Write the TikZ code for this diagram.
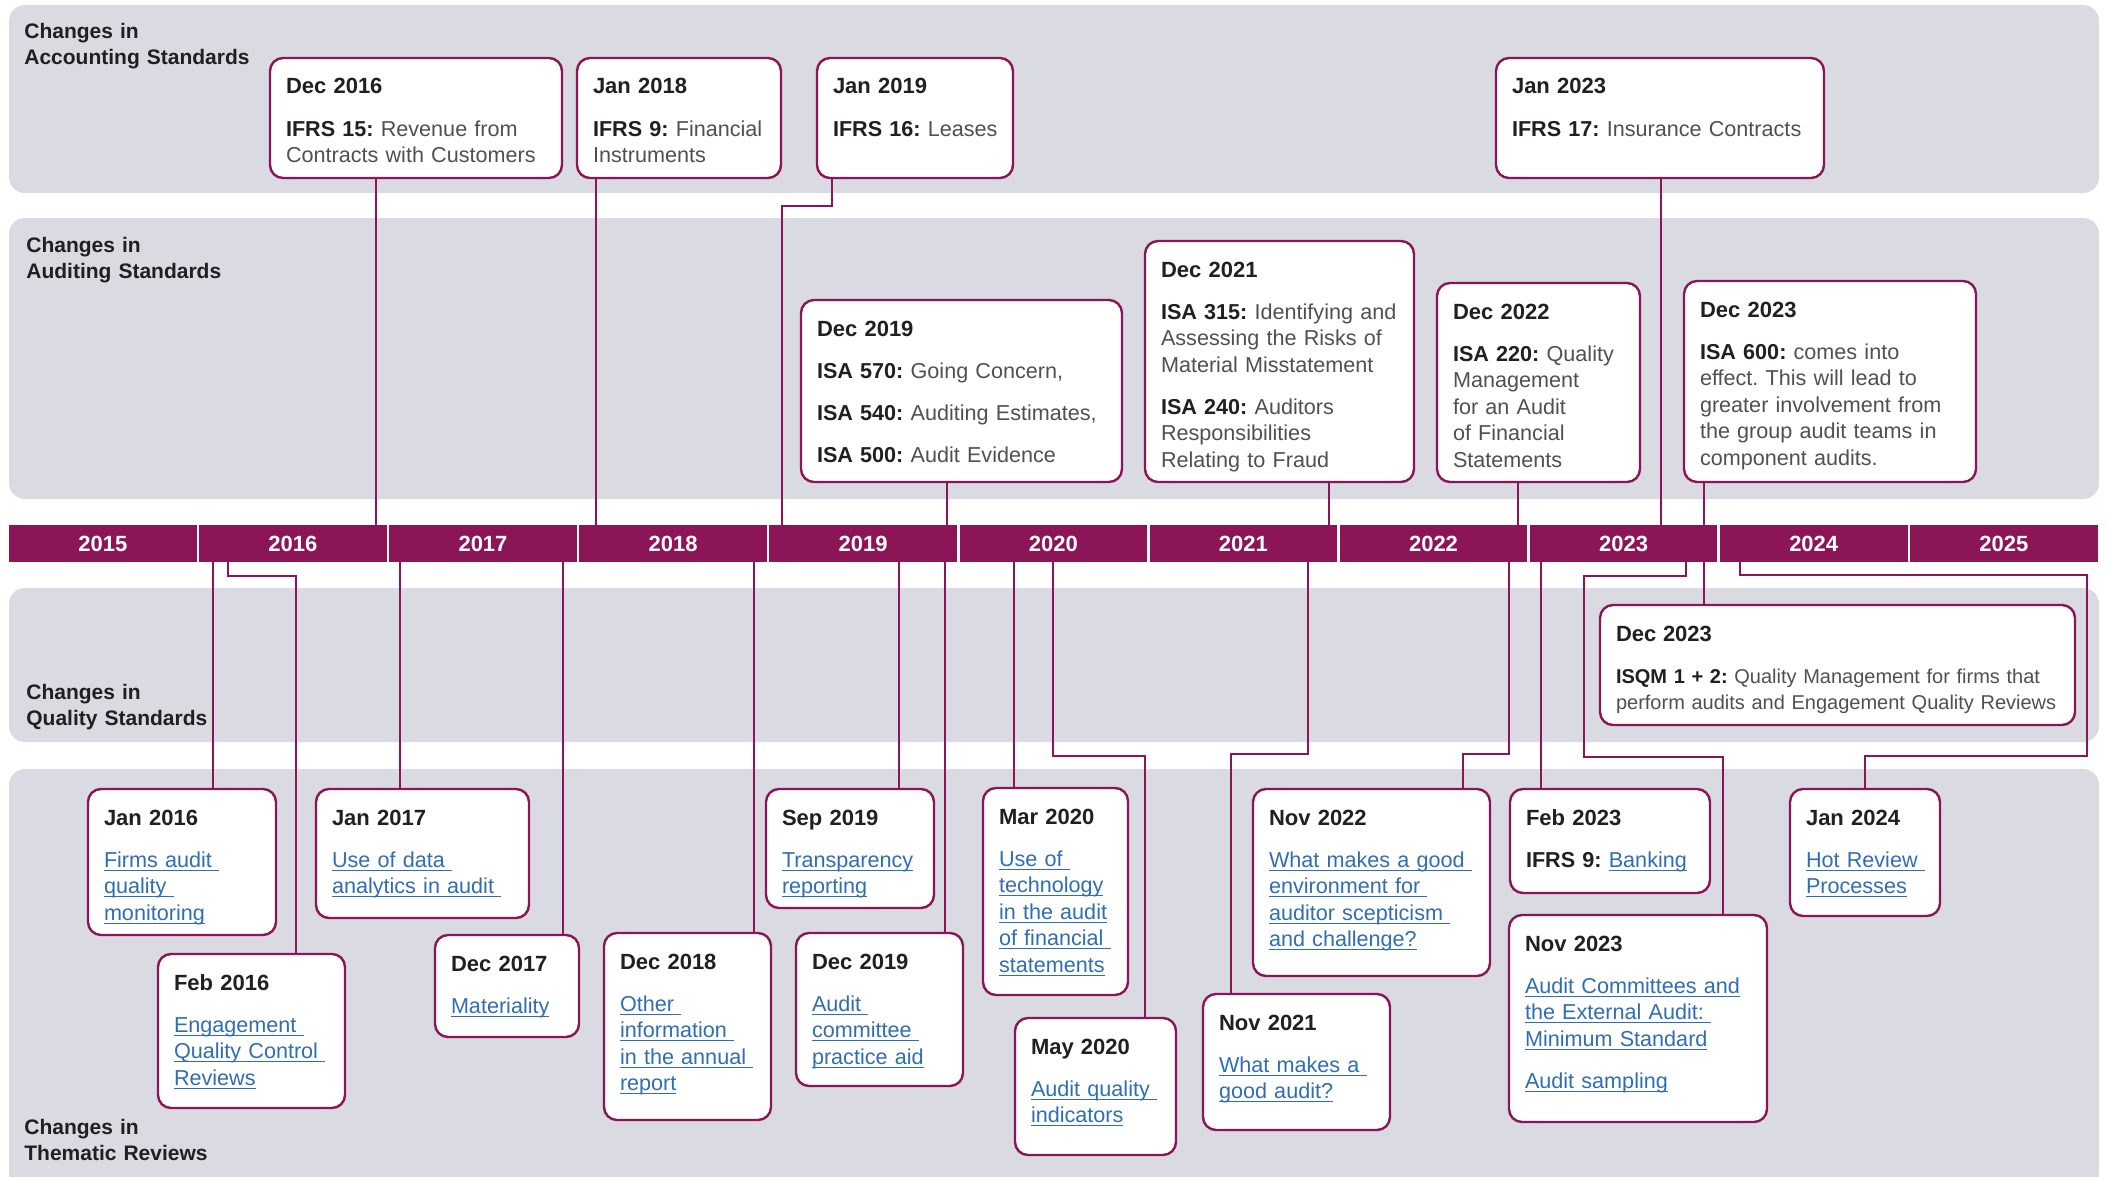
\documentclass[tikz,border=0pt]{standalone}
\usepackage{fontspec}
\setmainfont{Liberation Sans}
\usetikzlibrary{positioning,calc}

\definecolor{plumbar}{RGB}{140,21,88}
\definecolor{bandgray}{RGB}{218,218,226}
\definecolor{linkblue}{RGB}{48,110,180}
\definecolor{inkdark}{RGB}{35,31,32}
\definecolor{inkgray}{RGB}{80,80,80}

\newcommand{\when}[1]{{\fontsize{11}{13.3}\selectfont\bfseries\color{inkdark}#1}\\[7.7pt]}
\newcommand{\std}[1]{{\bfseries\color{inkdark}#1}}
\newcommand{\lnk}[1]{\leavevmode{\color{linkblue}\setbox0\hbox{#1}\rlap{\rule[-1.8pt]{\wd0}{0.55pt}}\box0}}
\newcommand{\blockgap}{\\[7.7pt]}
\frenchspacing

\begin{document}
\begin{tikzpicture}[x=0.5pt, y=-0.5pt,
  band/.style={fill=bandgray, rounded corners=8pt},
  lbl/.style={anchor=north west, inner sep=0pt, text height=7.6pt, text width=130pt, align=left, font=\fontsize{10.5}{13}\selectfont\bfseries, text=inkdark},
  yr/.style={fill=plumbar, minimum width=93.8pt, minimum height=18.5pt, inner sep=0pt, outer sep=0pt, text=white, font=\fontsize{11}{13}\selectfont\bfseries},
  evt/.style={draw=plumbar, fill=white, line width=1.2pt, rounded corners=6.5pt, anchor=north west, inner xsep=8pt, inner ysep=0pt, outer sep=0pt, text height=18pt, align=left, text=inkgray, font=\fontsize{10.8}{13.3}\selectfont},
  conn/.style={draw=plumbar, line width=1pt}]
 \useasboundingbox (0,0) rectangle (2109,1177);

 % Background bands
 \fill[band] (9,5) rectangle (2099,193);
 \fill[band] (9,218) rectangle (2099,499);
 \fill[band] (9,588) rectangle (2099,742);
 \fill[band] (9,769) rectangle (2099,1177);
 \fill[bandgray] (9,1150) rectangle (2099,1177);

 \node[lbl] (lacc) at (24,23) {Changes in\\Accounting Standards};
 \node[lbl] (laud) at (26,237) {Changes in\\Auditing Standards};
 \node[lbl] (lqual) at (26,684) {Changes in\\Quality Standards};
 \node[lbl] (lthem) at (24,1119) {Changes in\\Thematic Reviews};

 % Year bar
 \node[yr] (y2015) at (102.8,543.5) {2015};
 \node[yr, right=1.25pt of y2015] (y2016) {2016};
 \node[yr, right=1.25pt of y2016] (y2017) {2017};
 \node[yr, right=1.25pt of y2017] (y2018) {2018};
 \node[yr, right=1.25pt of y2018] (y2019) {2019};
 \node[yr, right=1.25pt of y2019] (y2020) {2020};
 \node[yr, right=1.25pt of y2020] (y2021) {2021};
 \node[yr, right=1.25pt of y2021] (y2022) {2022};
 \node[yr, right=1.25pt of y2022] (y2023) {2023};
 \node[yr, right=1.25pt of y2023] (y2024) {2024};
 \node[yr, right=1.25pt of y2024] (y2025) {2025};

 % Accounting standards
 \node[evt, text width=130pt, text depth=42pt] (d16) at (270,58) {\when{Dec 2016}\std{IFRS 15:} Revenue from\\Contracts with Customers};
 \node[evt, text width=86pt, text depth=42pt] (j18) at (577,58) {\when{Jan 2018}\mbox{\std{IFRS 9:} Financial}\\Instruments};
 \node[evt, text width=82pt, text depth=42pt] (j19) at (817,58) {\when{Jan 2019}\mbox{\std{IFRS 16:} Leases}};
 \node[evt, text width=148pt, text depth=42pt] (j23) at (1496,58) {\when{Jan 2023}\std{IFRS 17:} Insurance Contracts};

 % Auditing standards
 \node[evt, text width=144.5pt, text depth=73pt] (a19) at (801,300) {\when{Dec 2019}\std{ISA 570:} Going Concern,\blockgap\std{ISA 540:} Auditing Estimates,\blockgap\std{ISA 500:} Audit Evidence};
 \node[evt, text width=118.5pt, text depth=102.5pt] (a21) at (1145,241) {\when{Dec 2021}\std{ISA 315:} Identifying and\\Assessing the Risks of\\Material Misstatement\blockgap\std{ISA 240:} Auditors\\Responsibilities\\Relating to Fraud};
 \node[evt, text width=85.5pt, text depth=81.5pt] (a22) at (1437,283) {\when{Dec 2022}\std{ISA 220:} Quality\\Management\\for an Audit\\of Financial\\Statements};
 \node[evt, text width=130pt, text depth=82.5pt] (a23) at (1684,281) {\when{Dec 2023}\std{ISA 600:} comes into\\effect. This will lead to\\greater involvement from\\the group audit teams in\\component audits.};

 % Quality standards
 \node[evt, text width=221.5pt, text depth=42pt, font=\fontsize{10}{13.3}\selectfont] (isqm) at (1600,605) {\when{Dec 2023}\std{ISQM 1 + 2:} Quality Management for firms that\\perform audits and Engagement Quality Reviews};

 % Thematic reviews
 \node[evt, text width=78pt, text depth=55pt] (t16a) at (88,789) {\when{Jan 2016}\lnk{Firms audit\ }\\\lnk{quality\ }\\\lnk{monitoring}};
 \node[evt, text width=77.5pt, text depth=59pt] (t16b) at (158,954) {\when{Feb 2016}\lnk{Engagement\ }\\\lnk{Quality Control\ }\\\lnk{Reviews}};
 \node[evt, text width=90.5pt, text depth=46.5pt] (t17a) at (316,789) {\when{Jan 2017}\lnk{Use of data\ }\\\lnk{analytics in audit\ }};
 \node[evt, text width=56pt, text depth=33pt] (t17b) at (435,935) {\when{Dec 2017}\lnk{Materiality}};
 \node[evt, text width=67.5pt, text depth=75.5pt] (t18) at (604,933) {\when{Dec 2018}\lnk{Other\ }\\\lnk{information\ }\\\lnk{in the annual\ }\\\lnk{report}};
 \node[evt, text width=68pt, text depth=41.5pt] (t19a) at (766,789) {\when{Sep 2019}\lnk{Transparency}\\\lnk{reporting}};
 \node[evt, text width=67.5pt, text depth=58.5pt] (t19b) at (796,933) {\when{Dec 2019}\lnk{Audit\ }\\\lnk{committee\ }\\\lnk{practice aid}};
 \node[evt, text width=56.5pt, text depth=85.5pt] (t20a) at (983,788) {\when{Mar 2020}\lnk{Use of\ }\\\lnk{technology}\\\lnk{in the audit}\\\lnk{of financial\ }\\\lnk{statements}};
 \node[evt, text width=64.5pt, text depth=50.5pt] (t20b) at (1015,1018) {\when{May 2020}\lnk{Audit quality\ }\\\lnk{indicators}};
 \node[evt, text width=77.5pt, text depth=50pt] (t21) at (1203,994) {\when{Nov 2021}\lnk{What makes a\ }\\\lnk{good audit?}};
 \node[evt, text width=102.5pt, text depth=75.5pt] (t22) at (1253,789) {\when{Nov 2022}\lnk{What makes a good\ }\\\lnk{environment for\ }\\\lnk{auditor scepticism\ }\\\lnk{and challenge?}};
 \node[evt, text width=84pt, text depth=34pt] (t23a) at (1510,789) {\when{Feb 2023}\mbox{\std{IFRS 9:} \lnk{Banking}}};
 \node[evt, text width=113pt, text depth=85.5pt] (t23b) at (1509,915) {\when{Nov 2023}\lnk{Audit Committees and}\\\lnk{the External Audit:\ }\\\lnk{Minimum Standard}\blockgap\lnk{Audit sampling}};
 \node[evt, text width=59pt, text depth=45.5pt] (t24) at (1790,789) {\when{Jan 2024}\lnk{Hot Review\ }\\\lnk{Processes}};

 % Connectors above the bar
 \draw[conn] ($(d16.south west)+(106,0)$) coordinate (p) -- (p |- y2016.north);
 \draw[conn] ($(j18.south west)+(19,0)$) coordinate (p) -- (p |- y2018.north);
 \draw[conn] ($(j19.south west)+(15,0)$) -- ++(0,28) -| ($(y2019.north west)+(13,0)$);
 \draw[conn] ($(j23.south west)+(165,0)$) coordinate (p) -- (p |- y2023.north);
 \draw[conn] ($(a19.south west)+(146,0)$) coordinate (p) -- (p |- y2019.north);
 \draw[conn] ($(a21.south west)+(184,0)$) coordinate (p) -- (p |- y2021.north);
 \draw[conn] ($(a22.south west)+(81,0)$) coordinate (p) -- (p |- y2022.north);
 \draw[conn] ($(a23.south west)+(20,0)$) coordinate (p) -- (p |- y2023.north);

 % Connectors below the bar
 \draw[conn] ($(isqm.north west)+(104,0)$) coordinate (p) -- (p |- y2023.south);
 \draw[conn] ($(t16a.north west)+(125,0)$) coordinate (p) -- (p |- y2016.south);
 \draw[conn] ($(y2016.south west)+(29,0)$) -- ++(0,14) -| ($(t16b.north west)+(138,0)$);
 \draw[conn] ($(t17a.north west)+(84,0)$) coordinate (p) -- (p |- y2017.south);
 \draw[conn] ($(t17b.north west)+(128,0)$) coordinate (p) -- (p |- y2017.south);
 \draw[conn] ($(t18.north west)+(150,0)$) coordinate (p) -- (p |- y2018.south);
 \draw[conn] ($(t19a.north west)+(133,0)$) coordinate (p) -- (p |- y2019.south);
 \draw[conn] ($(t19b.north west)+(149,0)$) coordinate (p) -- (p |- y2019.south);
 \draw[conn] ($(t20a.north west)+(31,0)$) coordinate (p) -- (p |- y2020.south);
 \draw[conn] ($(y2020.south west)+(93.5,0)$) -- ++(0,194) -| ($(t20b.north west)+(130,0)$);
 \draw[conn] ($(y2021.south west)+(158.4,0)$) -- ++(0,192) -| ($(t21.north west)+(28,0)$);
 \draw[conn] ($(y2022.south west)+(169.3,0)$) -- ++(0,192) -| ($(t22.north west)+(210,0)$);
 \draw[conn] ($(t23a.north west)+(31,0)$) coordinate (p) -- (p |- y2023.south);
 \draw[conn] ($(y2023.south west)+(156,0)$) -- ++(0,14) -| ++(-102,181) -| ($(t23b.north west)+(214,0)$);
 \draw[conn] ($(y2024.south west)+(20,0)$) -- ++(0,13) -| ++(347,181) -| ($(t24.north west)+(75,0)$);
\end{tikzpicture}
\end{document}
